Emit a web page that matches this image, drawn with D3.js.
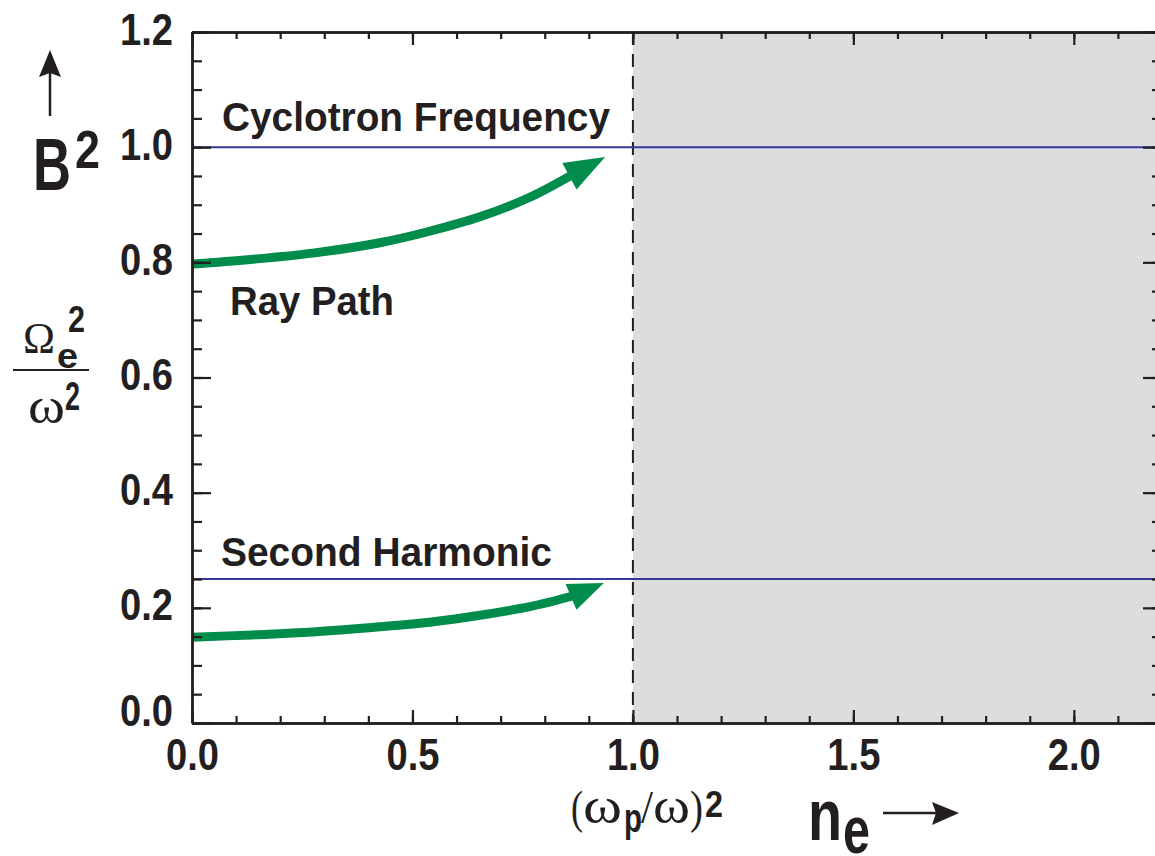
<!DOCTYPE html>
<html><head><meta charset="utf-8">
<script src="https://cdn.jsdelivr.net/npm/d3@7"></script>
<style>html,body{margin:0;padding:0;background:#fff;overflow:hidden}</style>
</head><body><svg id="chart" width="1155" height="856"></svg>
<script>
// ---- data ----
const xTickValues = [0, 0.5, 1.0, 1.5, 2.0];
const xTickLabels = ["0.0", "0.5", "1.0", "1.5", "2.0"];
const yTickValues = [0, 0.2, 0.4, 0.6, 0.8, 1.0, 1.2];
const yTickLabels = ["0.0", "0.2", "0.4", "0.6", "0.8", "1.0", "1.2"];
const resonanceNames = ["Cyclotron Frequency", "Second Harmonic"];
const resonanceLevels = [1.0, 0.25];
const cutoffDensity = 1.0;
const rayLabel = "Ray Path";
// ray paths (last point = arrow tip)
const rayUpperX = [0, 0.132, 0.274, 0.426, 0.539, 0.653, 0.766, 0.862, 0.937];
const rayUpperY = [0.797, 0.805, 0.816, 0.834, 0.854, 0.879, 0.913, 0.952, 0.983];
const rayLowerX = [0, 0.136, 0.274, 0.426, 0.539, 0.653, 0.766, 0.866, 0.934];
const rayLowerY = [0.149, 0.153, 0.158, 0.167, 0.175, 0.187, 0.202, 0.221, 0.243];

// ---- setup ----
const INK = "#231f20", GREEN = "#008c4b", BLUE = "#34399a", SHADE = "#dcdddf";
const SANS = "'Liberation Sans Narrow','Liberation Sans',Arial,sans-serif";
const SANSW = "'Liberation Sans',Arial,sans-serif";
const SERIF = "'Liberation Serif','Times New Roman',serif";
const svg = d3.select("#chart");
const x = d3.scaleLinear().domain([0, 2.2]).range([192, 1162]);
const y = d3.scaleLinear().domain([0, 1.2]).range([723, 32]);

// shaded region beyond cutoff
svg.append("rect")
  .attr("x", x(cutoffDensity)).attr("y", y(1.2))
  .attr("width", x(2.2) - x(cutoffDensity)).attr("height", y(0) - y(1.2))
  .attr("fill", SHADE);

// dashed cutoff line
svg.append("line")
  .attr("x1", x(cutoffDensity)).attr("x2", x(cutoffDensity))
  .attr("y1", y(1.2)).attr("y2", y(0))
  .attr("stroke", INK).attr("stroke-width", 2).attr("stroke-dasharray", "13,9");

// resonance lines
svg.selectAll("line.res").data(resonanceLevels).join("line")
  .attr("class", "res")
  .attr("x1", x(0)).attr("x2", x(2.2))
  .attr("y1", d => y(d)).attr("y2", d => y(d))
  .attr("stroke", BLUE).attr("stroke-width", 2);

// rays
function drawRay(xs, ys, headW) {
  const pts = xs.map((v, i) => [x(v), y(ys[i])]);
  const body = pts.slice(0, pts.length - 1);
  const tip = pts[pts.length - 1], base = body[body.length - 1];
  svg.append("path")
    .attr("d", d3.line().curve(d3.curveCatmullRom)(body))
    .attr("fill", "none").attr("stroke", GREEN).attr("stroke-width", 9);
  const dx = tip[0] - base[0], dy = tip[1] - base[1];
  const L = Math.hypot(dx, dy), nx = -dy / L, ny = dx / L;
  const back = 3;
  const bx = base[0] - dx / L * back, by = base[1] - dy / L * back;
  svg.append("path")
    .attr("d", `M${tip[0]},${tip[1]} L${bx + nx * headW / 2},${by + ny * headW / 2} L${bx - nx * headW / 2},${by - ny * headW / 2} Z`)
    .attr("fill", GREEN);
}
drawRay(rayUpperX, rayUpperY, 30);
drawRay(rayLowerX, rayLowerY, 28);

// ---- axes ----
function styleAxis(g) {
  g.selectAll(".domain").attr("stroke", INK).attr("stroke-width", 2.4);
  g.selectAll(".tick line").attr("stroke", INK).attr("stroke-width", 2.2);
  g.selectAll(".tick text")
    .attr("fill", INK).attr("font-family", SANS).attr("font-weight", "bold")
    .attr("font-size", 44).attr("textLength", 53).attr("lengthAdjust", "spacingAndGlyphs");
}
const xMinor = d3.range(0, 2.201, 0.1);
const yMinor = d3.range(0, 1.201, 0.05);

// bottom
svg.append("g").attr("transform", `translate(0,${y(0)})`)
  .call(d3.axisBottom(x).tickValues(xMinor).tickSize(-7).tickSizeOuter(0).tickFormat(""))
  .call(styleAxis);
svg.append("g").attr("transform", `translate(0,${y(0)})`)
  .call(d3.axisBottom(x).tickValues(xTickValues).tickSize(-13).tickSizeOuter(0).tickPadding(16)
    .tickFormat((d, i) => xTickLabels[i]))
  .call(styleAxis);
// top
svg.append("g").attr("transform", `translate(0,${y(1.2)})`)
  .call(d3.axisTop(x).tickValues(xMinor).tickSize(-7).tickSizeOuter(0).tickFormat(""))
  .call(styleAxis);
svg.append("g").attr("transform", `translate(0,${y(1.2)})`)
  .call(d3.axisTop(x).tickValues(xTickValues).tickSize(-13).tickSizeOuter(0).tickFormat(""))
  .call(styleAxis);
// left
svg.append("g").attr("transform", `translate(${x(0)},0)`)
  .call(d3.axisLeft(y).tickValues(yMinor).tickSize(-10).tickSizeOuter(0).tickFormat(""))
  .call(styleAxis);
const leftMajor = svg.append("g").attr("transform", `translate(${x(0)},0)`)
  .call(d3.axisLeft(y).tickValues(yTickValues).tickSize(-19).tickSizeOuter(0).tickPadding(19)
    .tickFormat((d, i) => yTickLabels[i]))
  .call(styleAxis);
leftMajor.selectAll(".tick text").attr("y", d => d === 0 ? -12 : -2);
// right
svg.append("g").attr("transform", `translate(${x(2.2)},0)`)
  .call(d3.axisRight(y).tickValues(yMinor).tickSize(-10).tickSizeOuter(0).tickFormat(""))
  .call(styleAxis);
svg.append("g").attr("transform", `translate(${x(2.2)},0)`)
  .call(d3.axisRight(y).tickValues(yTickValues).tickSize(-19).tickSizeOuter(0).tickFormat(""))
  .call(styleAxis);

// ---- annotations ----
function label(txt, px, py, size, len, family, weight) {
  return svg.append("text").attr("x", px).attr("y", py)
    .attr("font-family", family || SANSW).attr("font-weight", weight || "bold")
    .attr("font-size", size).attr("fill", INK)
    .attr("textLength", len).attr("lengthAdjust", "spacingAndGlyphs").text(txt);
}
label(resonanceNames[0], 222, y(resonanceLevels[0]) - 16, 40, 388);
label(resonanceNames[1], 221, y(resonanceLevels[1]) - 13, 40, 331);
label(rayLabel, 230, 315, 40, 164);

// B^2 with up arrow
label("B", 33, 190, 74, 38, SANS);
label("2", 75, 168, 54, 25, SANS);
svg.append("line").attr("x1", 50).attr("x2", 50).attr("y1", 116).attr("y2", 72)
  .attr("stroke", INK).attr("stroke-width", 2.5);
svg.append("path").attr("d", "M50,50 L39,77 L50,73 L61,77 Z").attr("fill", INK);

// Omega_e^2 / omega^2
label("\u03A9", 23, 353, 44, 32, SERIF, "normal");
label("e", 57, 368, 35, 21, SANS);
label("2", 68, 332, 37, 17, SANS);
svg.append("line").attr("x1", 13).attr("x2", 89).attr("y1", 370).attr("y2", 370)
  .attr("stroke", INK).attr("stroke-width", 2);
label("\u03C9", 28, 423, 50, 37, SERIF, "normal");
label("2", 65, 410, 41, 15, SANS);

// (omega_p/omega)^2
label("(", 571, 823, 46, 12, SERIF, "normal");
label("\u03C9", 583, 823, 50, 39, SERIF, "normal");
label("p", 624, 832, 40, 18, SANS);
label("/", 641, 823, 46, 12, SERIF, "normal");
label("\u03C9", 653, 823, 50, 37, SERIF, "normal");
label(")", 690, 823, 46, 13, SERIF, "normal");
label("2", 705, 817, 37, 18, SANS);

// n_e with arrow
label("n", 808, 840, 73, 34, SANS);
label("e", 843, 853, 66, 27, SANS);
svg.append("line").attr("x1", 883).attr("x2", 940).attr("y1", 813).attr("y2", 813)
  .attr("stroke", INK).attr("stroke-width", 2.5);
svg.append("path").attr("d", "M959,813 L932,802 L936,813 L932,825 Z").attr("fill", INK);
</script>
</body></html>
